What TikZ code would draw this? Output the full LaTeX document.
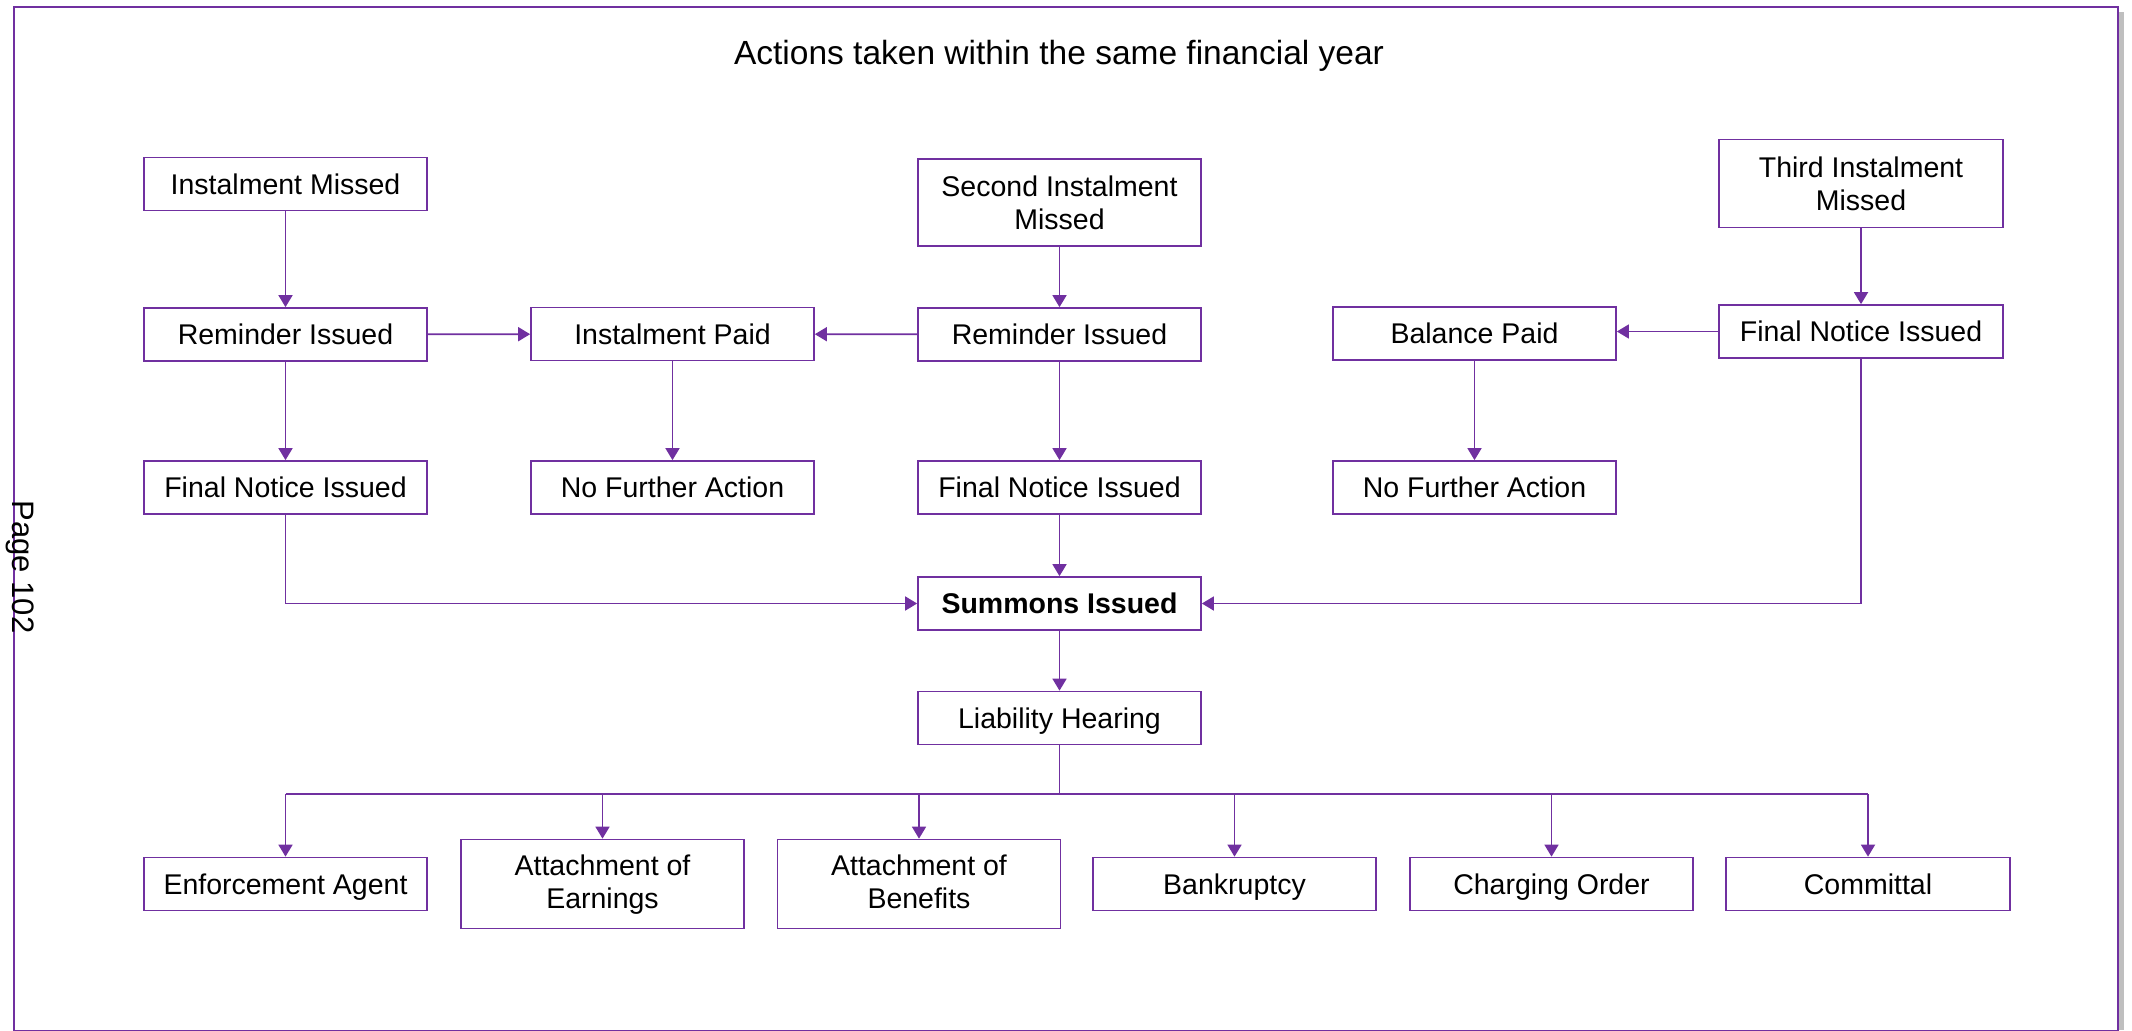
\documentclass[tikz,border=0pt]{standalone}
\usepackage{fontspec}
\setmainfont{Liberation Sans}
\usetikzlibrary{arrows.meta}
\definecolor{flowviolet}{HTML}{7030A0}
\begin{document}
\begin{tikzpicture}[x=1pt,y=-1pt,
  box/.style={draw=flowviolet, line width=1.7pt, fill=white, minimum width=283pt,
    minimum height=53pt, inner sep=0pt, align=center, text depth=0pt,
    font=\fontsize{28.5}{33}\selectfont},
  tallbox/.style={box, minimum height=88pt},
  outcome/.style={box},
  talloutcome/.style={outcome, minimum height=89pt, text depth=5pt},
  link/.style={draw=flowviolet, line width=1.7pt, -{Triangle[width=14pt,length=12pt]}},
  plainlink/.style={draw=flowviolet, line width=1.7pt}]
\useasboundingbox (0,0) rectangle (2132,1030);

% page frame with a soft shadow on the right
\fill[black!25] (2119,12) rectangle (2124,1030);
\draw[flowviolet, line width=2.5pt] (14,7) rectangle (2118,1031);

\node[font=\fontsize{33.5}{38}\selectfont, text depth=0pt] (title) at (1059,52) {Actions taken within the same financial year};
\node[rotate=-90, font=\fontsize{31}{36}\selectfont] (pagenum) at (20,567) {Page 102};

% first instalment column
\node[box] (im)   at (285.5,184)   {Instalment Missed};
\node[box] (ri1)  at (285.5,334.5) {Reminder Issued};
\node[box] (fn1)  at (285.5,487.5) {Final Notice Issued};
\node[box] (ip)   at (672.5,334)   {Instalment Paid};
\node[box] (nfa1) at (672.5,487.5) {No Further Action};

% second instalment column
\node[tallbox, minimum height=87pt] (sim) at (1059.5,202.5) {Second Instalment\\Missed};
\node[box] (ri2)  at (1059.5,334.5) {Reminder Issued};
\node[box] (fn2)  at (1059.5,487.5) {Final Notice Issued};

% third instalment column
\node[tallbox, minimum width=284pt] (tim) at (1861,183.5) {Third Instalment\\Missed};
\node[box, minimum width=284pt] (fn3) at (1861,331.5) {Final Notice Issued};
\node[box] (bp)   at (1474.5,333.5) {Balance Paid};
\node[box] (nfa2) at (1474.5,487.5) {No Further Action};

% court stage
\node[box, font=\fontsize{28.5}{33}\selectfont\bfseries] (sum) at (1059.5,603.5) {Summons Issued};
\node[box] (lh) at (1059.5,718) {Liability Hearing};

% enforcement options
\node[outcome]     (ea) at (285.5,884)  {Enforcement Agent};
\node[talloutcome] (ae) at (602.5,884)  {Attachment of\\Earnings};
\node[talloutcome] (ab) at (919,884)    {Attachment of\\Benefits};
\node[outcome]     (bk) at (1234.5,884) {Bankruptcy};
\node[outcome]     (co) at (1551.5,884) {Charging Order};
\node[outcome, minimum width=284pt] (cm) at (1868,884) {Committal};

% connectors
\draw[link] (im) -- (ri1);
\draw[link] (ri1) -- (fn1);
\draw[link] (ri1) -- (ip);
\draw[link] (ri2) -- (ip);
\draw[link] (ip) -- (nfa1);
\draw[link] (sim) -- (ri2);
\draw[link] (ri2) -- (fn2);
\draw[link] (fn2) -- (sum);
\draw[link] (fn1.south) |- (sum.west);
\draw[link] (tim) -- (fn3);
\draw[link] (fn3.west) -- (fn3.west -| bp.east);
\draw[link] (bp) -- (nfa2);
\draw[link] (fn3.south) |- (sum.east);
\draw[link] (sum) -- (lh);

\coordinate (bus) at (1059.5,794);
\draw[plainlink] (lh.south) -- (bus);
\draw[plainlink] (ea.north |- bus) -- (cm.north |- bus);
\foreach \n in {ea,ae,ab,bk,co,cm}
  \draw[link] (\n.north |- bus) -- (\n.north);
\end{tikzpicture}
\end{document}
